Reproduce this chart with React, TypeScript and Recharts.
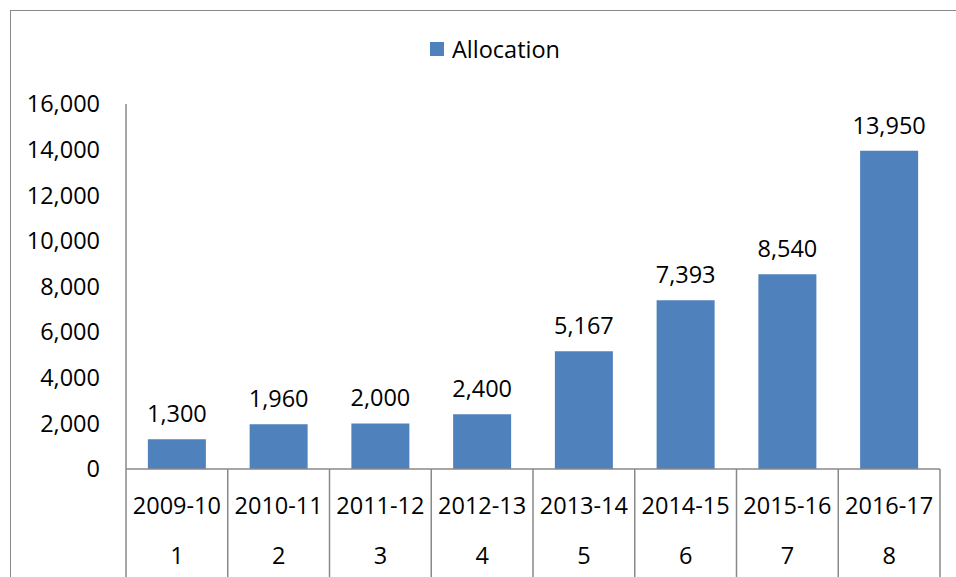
import React from 'react';
import { BarChart, Bar, XAxis, YAxis, LabelList, Legend } from 'recharts';

const years = ['2009-10', '2010-11', '2011-12', '2012-13', '2013-14', '2014-15', '2015-16', '2016-17'];
const indices = ['1', '2', '3', '4', '5', '6', '7', '8'];
const allocation = [1300, 1960, 2000, 2400, 5167, 7393, 8540, 13950];
const yTicks = [0, 2000, 4000, 6000, 8000, 10000, 12000, 14000, 16000];

const data = years.map((year, i) => ({ year, idx: indices[i], allocation: allocation[i] }));

const W = 956;
const H = 577;
const Y_AXIS_W = 126;
const RIGHT = 16;
const TOP = 104;
const X_AXIS_H = 108;
const PLOT_W = W - Y_AXIS_W - RIGHT;

const FONT = '"Open Sans", "Noto Sans", sans-serif';
const FS = 23.5;
const AXIS = '#898989';
const BAR = '#4F81BD';

const fmt = (v: number) => Number(v).toLocaleString('en-US');

function CategoryTick(props: any) {
  const { x, y, payload, index } = props;
  const band = PLOT_W / years.length;
  const left = x - band / 2;
  const right = x + band / 2;
  const i = typeof index === 'number' ? index : years.indexOf(payload.value);
  return (
    <g>
      <line x1={left} y1={y} x2={left} y2={y + X_AXIS_H} stroke={AXIS} strokeWidth={1.5} />
      {i === years.length - 1 && (
        <line x1={right} y1={y} x2={right} y2={y + X_AXIS_H} stroke={AXIS} strokeWidth={1.5} />
      )}
      <text x={x} y={y + 36} textAnchor="middle" dominantBaseline="central" fontFamily={FONT} fontSize={FS} fill="#000">
        {payload.value}
      </text>
      <text x={x} y={y + 86} textAnchor="middle" dominantBaseline="central" fontFamily={FONT} fontSize={FS} fill="#000">
        {indices[i]}
      </text>
    </g>
  );
}

function LegendContent(props: any) {
  const item = props.payload && props.payload[0];
  const label = item ? item.value : 'Allocation';
  return (
    <div style={{ display: 'flex', alignItems: 'center', fontFamily: FONT, fontSize: FS, lineHeight: '26px', color: '#000', whiteSpace: 'nowrap' }}>
      <span style={{ display: 'inline-block', width: 14, height: 14, background: BAR, marginRight: 8 }} />
      <span>{label}</span>
    </div>
  );
}

export default function App() {
  return (
    <div style={{ position: 'fixed', left: 0, top: 0, width: W, height: H, overflow: 'hidden', background: '#fff' }}>
      <div
        style={{
          position: 'absolute',
          left: 10,
          top: 10,
          width: 1000,
          height: 700,
          border: `1.5px solid ${AXIS}`,
          boxSizing: 'border-box',
        }}
      />
      <div style={{ position: 'absolute', left: 0, top: 0 }}>
        <BarChart
          width={W}
          height={H}
          data={data}
          margin={{ top: TOP, right: RIGHT, bottom: 0, left: 0 }}
          barCategoryGap="21.5%"
        >
          <Legend
            verticalAlign="middle"
            align="center"
            layout="horizontal"
            wrapperStyle={{ top: 36, left: 430, width: 'auto', height: 'auto' }}
            content={<LegendContent />}
          />
          <XAxis
            dataKey="year"
            height={X_AXIS_H}
            interval={0}
            tickLine={false}
            tickSize={0}
            tickMargin={0}
            axisLine={{ stroke: AXIS, strokeWidth: 1.5 }}
            tick={<CategoryTick />}
          />
          <YAxis
            width={Y_AXIS_W}
            domain={[0, 16000]}
            ticks={yTicks}
            interval={0}
            tickLine={false}
            tickSize={0}
            tickMargin={26}
            axisLine={{ stroke: AXIS, strokeWidth: 1.5 }}
            tickFormatter={fmt}
            tick={{ fontFamily: FONT, fontSize: FS, fill: '#000' }}
          />
          <Bar dataKey="allocation" name="Allocation" fill={BAR} isAnimationActive={false}>
            <LabelList
              dataKey="allocation"
              position="top"
              offset={17}
              formatter={(v: any) => fmt(v)}
              style={{ fontFamily: FONT, fontSize: FS, fill: '#000' }}
            />
          </Bar>
        </BarChart>
      </div>
    </div>
  );
}
